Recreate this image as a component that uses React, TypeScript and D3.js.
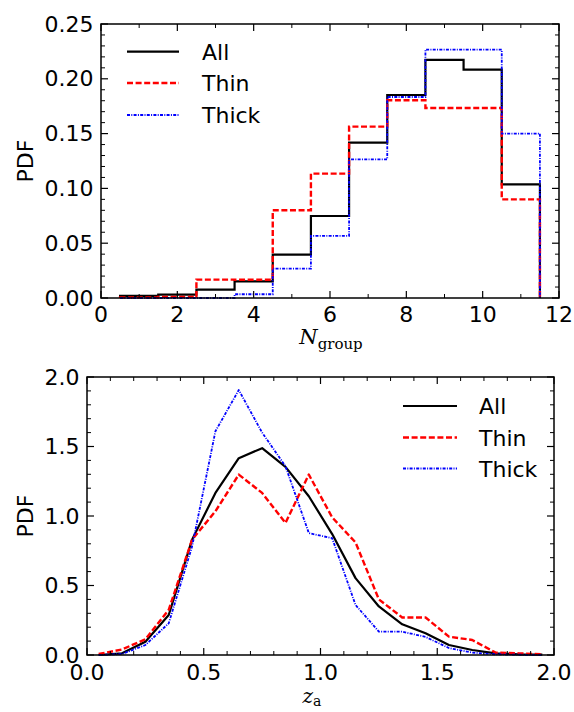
import React from 'react';
import * as d3 from 'd3';

// ── histogram (top panel) ───────────────────────────────────────────────
const BIN_EDGES = [0.5, 1.5, 2.5, 3.5, 4.5, 5.5, 6.5, 7.5, 8.5, 9.5, 10.5, 11.5];
const HIST_ALL = [0.002, 0.003, 0.0077, 0.0152, 0.0396, 0.0748, 0.1418, 0.1852, 0.2172, 0.2084, 0.1037];
const HIST_THIN = [0.0005, 0.001, 0.0168, 0.0166, 0.080, 0.1135, 0.1564, 0.1804, 0.1734, 0.1734, 0.090];
const HIST_THICK = [0, 0, 0, 0.0034, 0.0268, 0.0566, 0.1265, 0.1834, 0.2266, 0.2266, 0.150];

// ── z_a curves (bottom panel) ───────────────────────────────────────────
const Z_CENTERS = [0.05, 0.15, 0.25, 0.35, 0.45, 0.55, 0.65, 0.75, 0.85, 0.95,
  1.05, 1.15, 1.25, 1.35, 1.45, 1.55, 1.65, 1.75, 1.85, 1.95];
const Z_ALL = [0.0, 0.012, 0.096, 0.288, 0.83, 1.166, 1.416, 1.488, 1.353, 1.142,
  0.87, 0.553, 0.349, 0.221, 0.156, 0.072, 0.036, 0.012, 0.005, 0.002];
const Z_THIN = [0.007, 0.04, 0.113, 0.325, 0.83, 1.034, 1.298, 1.166, 0.95, 1.298,
  0.99, 0.81, 0.40, 0.27, 0.27, 0.132, 0.108, 0.017, 0.012, 0.005];
const Z_THICK = [0.0, 0.007, 0.072, 0.228, 0.78, 1.61, 1.906, 1.60, 1.358, 0.877,
  0.84, 0.36, 0.168, 0.168, 0.13, 0.05, 0.017, 0.005, 0.002, 0.0];

const LEGEND = ['All', 'Thin', 'Thick'];

const STYLES = [
  { stroke: '#000000', width: 2.2, dash: undefined as string | undefined },
  { stroke: '#ff0000', width: 2.4, dash: '6,2.6' },
  { stroke: '#0000ff', width: 1.8, dash: '3,1.3,1,1.3' },
];

const FONT = '"DejaVu Sans", sans-serif';
const SERIF = '"DejaVu Serif", "Liberation Serif", serif';

type Frame = { left: number; right: number; top: number; bottom: number };

function Axes({ x, y, f, xMajor, xMinor, yMajor, yMinor, xFmt, yFmt, xLabelY }: any) {
  const maj = 7, min = 4;
  const ax = '#000';
  return (
    <g>
      {xMinor.map((t: number) => (
        <g key={'xm' + t}>
          <line x1={x(t)} x2={x(t)} y1={f.bottom} y2={f.bottom - min} stroke={ax} strokeWidth={1} />
          <line x1={x(t)} x2={x(t)} y1={f.top} y2={f.top + min} stroke={ax} strokeWidth={1} />
        </g>
      ))}
      {yMinor.map((t: number) => (
        <g key={'ym' + t}>
          <line y1={y(t)} y2={y(t)} x1={f.left} x2={f.left + min} stroke={ax} strokeWidth={1} />
          <line y1={y(t)} y2={y(t)} x1={f.right} x2={f.right - min} stroke={ax} strokeWidth={1} />
        </g>
      ))}
      {xMajor.map((t: number) => (
        <g key={'xM' + t}>
          <line x1={x(t)} x2={x(t)} y1={f.bottom} y2={f.bottom - maj} stroke={ax} strokeWidth={1.2} />
          <line x1={x(t)} x2={x(t)} y1={f.top} y2={f.top + maj} stroke={ax} strokeWidth={1.2} />
          <text x={x(t)} y={xLabelY} textAnchor="middle" fontSize={22} fontFamily={FONT}>{xFmt(t)}</text>
        </g>
      ))}
      {yMajor.map((t: number) => (
        <g key={'yM' + t}>
          <line y1={y(t)} y2={y(t)} x1={f.left} x2={f.left + maj} stroke={ax} strokeWidth={1.2} />
          <line y1={y(t)} y2={y(t)} x1={f.right} x2={f.right - maj} stroke={ax} strokeWidth={1.2} />
          <text x={f.left - 7.5} y={y(t) + 7.5} textAnchor="end" fontSize={22} fontFamily={FONT}>{yFmt(t)}</text>
        </g>
      ))}
    </g>
  );
}

function Legend({ x1, x2, tx, rows }: { x1: number; x2: number; tx: number; rows: number[] }) {
  return (
    <g>
      {LEGEND.map((name, i) => (
        <g key={name}>
          <line x1={x1} x2={x2} y1={rows[i]} y2={rows[i]} stroke={STYLES[i].stroke}
            strokeWidth={STYLES[i].width} strokeDasharray={STYLES[i].dash} />
          <text x={tx} y={rows[i] + 8} fontSize={22} fontFamily={FONT}>{name}</text>
        </g>
      ))}
    </g>
  );
}

function TopPanel() {
  const f: Frame = { left: 101, right: 559, top: 24, bottom: 298 };
  const x = d3.scaleLinear().domain([0, 12]).range([f.left, f.right]);
  const y = d3.scaleLinear().domain([0, 0.25]).range([f.bottom, f.top]);
  const stepPath = (vals: number[]) => {
    const pts: [number, number][] = [[BIN_EDGES[0], 0]];
    vals.forEach((v, i) => { pts.push([BIN_EDGES[i], v]); pts.push([BIN_EDGES[i + 1], v]); });
    pts.push([BIN_EDGES[BIN_EDGES.length - 1], 0]);
    return d3.line<[number, number]>().x(d => x(d[0])).y(d => y(d[1]))(pts) || '';
  };
  const series = [HIST_ALL, HIST_THIN, HIST_THICK];
  const xMajor = d3.range(0, 12.01, 2);
  const xMinor = d3.range(0, 12.01, 1).filter(t => t % 2 !== 0);
  const yMajor = d3.range(0, 0.2501, 0.05);
  const yMinor = d3.range(0, 0.2501, 0.01).filter(t => Math.abs(Math.round(t / 0.05) * 0.05 - t) > 1e-6);
  return (
    <g>
      {series.map((s, i) => (
        <path key={i} d={stepPath(s)} fill="none" stroke={STYLES[i].stroke}
          strokeWidth={STYLES[i].width} strokeDasharray={STYLES[i].dash} />
      ))}
      <rect x={f.left} y={f.top} width={f.right - f.left} height={f.bottom - f.top}
        fill="none" stroke="#000" strokeWidth={1.5} />
      <Axes x={x} y={y} f={f} xMajor={xMajor} xMinor={xMinor} yMajor={yMajor} yMinor={yMinor}
        xFmt={(t: number) => d3.format('d')(t)} yFmt={(t: number) => d3.format('.2f')(t)} xLabelY={321.5} />
      <Legend x1={127} x2={179} tx={202} rows={[51.7, 83, 115]} />
      <text transform="translate(33,161) rotate(-90)" textAnchor="middle" fontSize={22} fontFamily={FONT}>PDF</text>
      <text x={331} y={343.5} textAnchor="middle" fontFamily={SERIF}>
        <tspan fontStyle="italic" fontSize={21}>N</tspan>
        <tspan fontSize={15} dy={5}>group</tspan>
      </text>
    </g>
  );
}

function BottomPanel() {
  const f: Frame = { left: 87, right: 554, top: 377, bottom: 655 };
  const x = d3.scaleLinear().domain([0, 2]).range([f.left, f.right]);
  const y = d3.scaleLinear().domain([0, 2]).range([f.bottom, f.top]);
  const line = d3.line<number>().x((_, i) => x(Z_CENTERS[i])).y(d => y(d));
  const series = [Z_ALL, Z_THIN, Z_THICK];
  const xMajor = d3.range(0, 2.001, 0.5);
  const xMinor = d3.range(0, 2.001, 0.1).filter(t => Math.abs(Math.round(t / 0.5) * 0.5 - t) > 1e-6);
  const yMajor = d3.range(0, 2.001, 0.5);
  const yMinor = xMinor;
  return (
    <g>
      {series.map((s, i) => (
        <path key={i} d={line(s) || ''} fill="none" stroke={STYLES[i].stroke}
          strokeWidth={STYLES[i].width} strokeDasharray={STYLES[i].dash} strokeLinejoin="round" />
      ))}
      <rect x={f.left} y={f.top} width={f.right - f.left} height={f.bottom - f.top}
        fill="none" stroke="#000" strokeWidth={1.5} />
      <Axes x={x} y={y} f={f} xMajor={xMajor} xMinor={xMinor} yMajor={yMajor} yMinor={yMinor}
        xFmt={(t: number) => d3.format('.1f')(t)} yFmt={(t: number) => d3.format('.1f')(t)} xLabelY={680} />
      <Legend x1={403} x2={457} tx={479} rows={[406, 437.5, 468.5]} />
      <text transform="translate(33,516) rotate(-90)" textAnchor="middle" fontSize={22} fontFamily={FONT}>PDF</text>
      <text x={312} y={703} textAnchor="middle" fontFamily={SERIF}>
        <tspan fontStyle="italic" fontSize={20}>z</tspan>
        <tspan fontSize={14} dy={3}>a</tspan>
      </text>
    </g>
  );
}

export default function App() {
  return (
    <div style={{ position: 'absolute', left: 0, top: 0 }}>
      <svg width={574} height={712} viewBox="0 0 574 712" style={{ display: 'block', background: '#fff' }}>
        <TopPanel />
        <BottomPanel />
      </svg>
    </div>
  );
}
